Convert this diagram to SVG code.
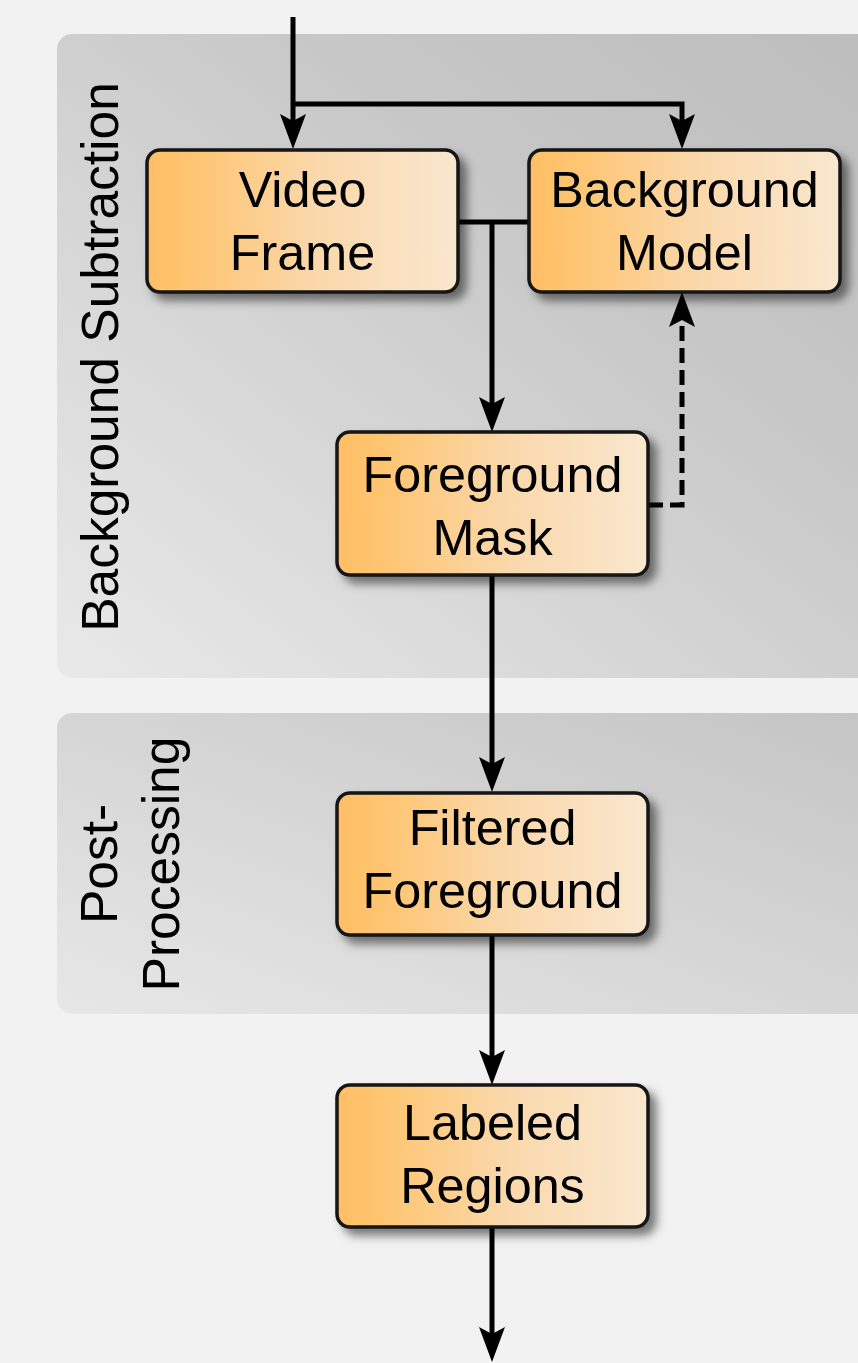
<svg xmlns="http://www.w3.org/2000/svg" width="858" height="1363" viewBox="0 0 858 1363">
<style>
.lbl{font-family:"Liberation Sans",Arial,sans-serif;font-size:50.3px;fill:#000;text-anchor:middle}
.clbl{font-family:"Liberation Sans",Arial,sans-serif;font-size:51.5px;fill:#000;text-anchor:middle}
.node{fill:url(#ng);stroke:#141414;stroke-width:3.5;filter:url(#sh)}
.edge{fill:none;stroke:#000;stroke-width:5}
.dash{stroke-dasharray:15,7}
</style>
<defs>
<linearGradient id="ng" x1="0" y1="0" x2="1" y2="0">
<stop offset="0" stop-color="#ffbe65"/>
<stop offset="0.15" stop-color="#fec571"/>
<stop offset="0.55" stop-color="#fad8ab"/>
<stop offset="1" stop-color="#f9e7cf"/>
</linearGradient>
<linearGradient id="cg1" x1="1" y1="0" x2="0" y2="1">
<stop offset="0" stop-color="#bdbdbd"/>
<stop offset="0.35" stop-color="#c7c7c7"/>
<stop offset="1" stop-color="#e9e9e9"/>
</linearGradient>
<linearGradient id="cg2" x1="1" y1="0" x2="0" y2="1">
<stop offset="0" stop-color="#c4c4c4"/>
<stop offset="1" stop-color="#e7e7e7"/>
</linearGradient>
<filter id="sh" x="-10%" y="-10%" width="130%" height="145%">
<feDropShadow dx="7" dy="7" stdDeviation="5" flood-color="#000" flood-opacity="0.5"/>
</filter>
<marker id="ah" markerUnits="userSpaceOnUse" markerWidth="40" markerHeight="30" viewBox="-36 -15 40 30" refX="-22" refY="0" orient="auto">
<path d="M0,0 L-35,-13 L-28,0 L-35,13 Z" fill="#000"/>
</marker>
</defs>
<rect width="858" height="1363" fill="#f2f2f2"/>
<g id="cluster-bg">
<rect x="57" y="34" width="830" height="644" rx="15" fill="url(#cg1)"/>
<text class="clbl" transform="translate(118,357) rotate(-90)">Background Subtraction</text>
</g>
<g id="cluster-pp">
<rect x="57" y="713" width="830" height="301" rx="15" fill="url(#cg2)"/>
<text class="clbl" transform="translate(117,864) rotate(-90)">Post-</text>
<text class="clbl" transform="translate(179,864) rotate(-90)">Processing</text>
</g>
<g id="edges">
<path class="edge" d="M293,17 V127" marker-end="url(#ah)"/>
<path class="edge" d="M293,104 H682 V127" marker-end="url(#ah)"/>
<path class="edge" d="M458,222 H529"/>
<path class="edge" d="M492,222 V410" marker-end="url(#ah)"/>
<path class="edge dash" d="M648,505 H682 V314" marker-end="url(#ah)"/>
<path class="edge" d="M492,575 V770" marker-end="url(#ah)"/>
<path class="edge" d="M492,936 V1063" marker-end="url(#ah)"/>
<path class="edge" d="M492,1228 V1340" marker-end="url(#ah)"/>
</g>
<g id="video-frame">
<rect class="node" x="147" y="150" width="311" height="142" rx="13"/>
<text class="lbl" x="302.5" y="207">Video</text>
<text class="lbl" x="302.5" y="270">Frame</text>
</g>
<g id="background-model">
<rect class="node" x="529" y="150" width="311" height="142" rx="13"/>
<text class="lbl" x="684.5" y="207">Background</text>
<text class="lbl" x="684.5" y="270">Model</text>
</g>
<g id="foreground-mask">
<rect class="node" x="337" y="432" width="311" height="143" rx="13"/>
<text class="lbl" x="492.5" y="492">Foreground</text>
<text class="lbl" x="492.5" y="555">Mask</text>
</g>
<g id="filtered-foreground">
<rect class="node" x="337" y="793" width="311" height="142" rx="13"/>
<text class="lbl" x="492.5" y="845">Filtered</text>
<text class="lbl" x="492.5" y="908">Foreground</text>
</g>
<g id="labeled-regions">
<rect class="node" x="337" y="1085" width="311" height="142" rx="13"/>
<text class="lbl" x="492.5" y="1140">Labeled</text>
<text class="lbl" x="492.5" y="1203">Regions</text>
</g>
</svg>
